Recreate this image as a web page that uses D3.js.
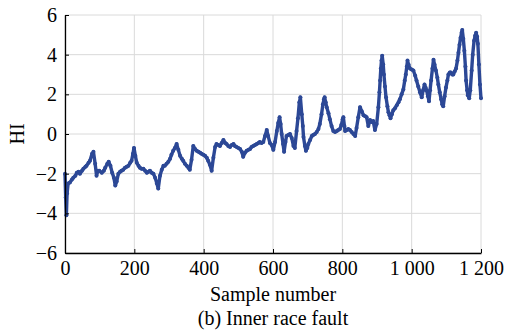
<!DOCTYPE html>
<html>
<head>
<meta charset="utf-8">
<script src="https://cdn.jsdelivr.net/npm/d3@7"></script>
<style>
  html, body { margin: 0; padding: 0; background: #fff; }
  #chart { width: 505px; height: 336px; }
  #chart text { font-family: 'Liberation Serif', 'Times New Roman', Times, 'DejaVu Serif', serif; }
</style>
</head>
<body>
<div id="chart"></div>
<script>
// health indicator (HI), sample number -> value
const sampleIdx = [
  0, 2, 4, 6, 9, 14, 20, 24, 30, 34, 39, 43, 49, 53, 59, 62, 68, 72, 78, 82,
  87, 91, 95, 99, 106, 112, 116, 122, 126, 131, 136, 141, 145, 149, 154, 159, 163, 168, 173, 178,
  183, 188, 192, 196, 199, 203, 207, 212, 216, 221, 226, 231, 236, 241, 245, 250, 255, 260, 265, 269,
  274, 279, 284, 288, 293, 298, 303, 307, 312, 317, 322, 327, 332, 337, 341, 346, 351, 356, 360, 365,
  370, 375, 380, 385, 390, 394, 399, 404, 409, 413, 418, 423, 428, 433, 437, 442, 447, 452, 457, 462,
  466, 471, 476, 481, 486, 490, 495, 500, 505, 510, 514, 519, 524, 529, 534, 538, 543, 548, 553, 558,
  562, 567, 572, 577, 582, 586, 591, 596, 601, 606, 611, 615, 619, 622, 625, 629, 632, 636, 639, 644,
  649, 654, 659, 663, 668, 672, 676, 679, 683, 686, 688, 692, 695, 699, 702, 707, 712, 716, 721, 726,
  731, 735, 740, 744, 747, 749, 752, 755, 760, 764, 769, 774, 779, 784, 788, 793, 797, 801, 803, 806,
  808, 813, 817, 822, 827, 832, 837, 841, 846, 851, 856, 861, 866, 870, 875, 880, 885, 889, 894, 899,
  904, 907, 909, 911, 913, 915, 918, 920, 923, 926, 930, 933, 936, 939, 943, 947, 952, 957, 962, 966,
  971, 976, 980, 983, 986, 988, 991, 995, 1000, 1005, 1010, 1014, 1019, 1024, 1029, 1033, 1037, 1040, 1043, 1047,
  1050, 1053, 1056, 1060, 1063, 1066, 1070, 1074, 1077, 1081, 1085, 1088, 1091, 1095, 1099, 1103, 1106, 1110, 1113, 1117,
  1120, 1124, 1128, 1132, 1135, 1138, 1141, 1144, 1146, 1149, 1152, 1155, 1157, 1160, 1162, 1166, 1169, 1173, 1176, 1180,
  1183, 1186, 1189, 1191, 1194, 1197, 1200
];
const hiValues = [
  -2.0, -3.2, -4.1, -3.0, -2.5, -2.45, -2.3, -2.2, -2.1, -1.95, -1.9, -2.0, -1.85, -1.75, -1.65, -1.6, -1.45, -1.35, -1.0, -0.9,
  -1.5, -2.1, -1.85, -1.85, -1.95, -1.85, -1.7, -1.5, -1.4, -1.6, -1.95, -2.2, -2.6, -2.4, -2.0, -1.9, -1.85, -1.8, -1.7, -1.65,
  -1.6, -1.45, -1.35, -1.0, -0.7, -1.1, -1.45, -1.6, -1.7, -1.75, -1.75, -1.85, -1.95, -1.9, -1.85, -1.95, -2.0, -2.2, -2.5, -2.75,
  -2.1, -1.8, -1.6, -1.6, -1.5, -1.4, -1.25, -1.05, -0.85, -0.7, -0.5, -0.8, -1.1, -1.25, -1.35, -1.5, -1.6, -1.7, -1.8, -1.3,
  -0.6, -0.75, -0.85, -0.9, -0.95, -1.0, -1.05, -1.1, -1.2, -1.35, -1.55, -1.85, -1.2, -0.65, -0.5, -0.55, -0.6, -0.45, -0.3, -0.45,
  -0.5, -0.6, -0.65, -0.55, -0.5, -0.6, -0.65, -0.7, -0.75, -0.9, -1.15, -0.95, -0.85, -0.8, -0.75, -0.65, -0.6, -0.55, -0.5, -0.45,
  -0.4, -0.45, -0.4, -0.1, 0.2, -0.1, -0.45, -0.55, -0.8, -0.4, 0.15, 0.55, 0.85, 0.5, 0.0, -0.5, -0.9, -0.4, -0.1, -0.05,
  0.0, -0.2, -0.6, -0.7, 0.15, 0.8, 1.6, 1.85, 1.0, 0.4, -0.15, -0.6, -0.85, -0.7, -0.5, -0.3, -0.1, -0.05, 0.0, 0.1,
  0.25, 0.5, 1.0, 1.5, 1.75, 1.85, 1.6, 1.35, 1.05, 0.75, 0.4, 0.15, 0.1, 0.15, 0.2, 0.25, 0.45, 0.75, 0.85, 0.4,
  0.15, 0.2, 0.25, 0.2, 0.1, 0.0, -0.1, 0.3, 0.85, 1.35, 1.15, 0.95, 0.9, 0.85, 0.4, 0.7, 0.6, 0.65, 0.2, 0.5,
  1.35, 2.1, 2.7, 3.3, 3.7, 3.95, 3.5, 3.0, 2.4, 1.85, 1.4, 1.1, 0.95, 0.8, 1.0, 1.2, 1.3, 1.45, 1.6, 1.75,
  2.0, 2.25, 2.7, 3.0, 3.4, 3.7, 3.5, 3.3, 3.25, 3.2, 2.95, 2.7, 2.4, 2.1, 1.85, 2.2, 2.5, 2.35, 2.2, 1.9,
  1.65, 2.2, 2.7, 3.3, 3.75, 3.5, 3.2, 2.85, 2.5, 2.1, 1.75, 1.5, 1.4, 1.9, 2.35, 2.7, 3.0, 3.1, 3.1, 3.0,
  3.0, 3.15, 3.3, 3.7, 4.1, 4.5, 4.85, 5.1, 5.25, 4.8, 4.2, 3.4, 2.7, 2.2, 1.95, 1.8, 2.2, 3.2, 4.0, 4.7,
  4.95, 5.1, 4.9, 4.55, 3.5, 2.5, 1.8
];
const xTicks = [0, 200, 400, 600, 800, 1000, 1200];
const xTickLabels = ['0', '200', '400', '600', '800', '1 000', '1 200'];
const yTicks = [-6, -4, -2, 0, 2, 4, 6];

const data = sampleIdx.map((s, i) => ({ s: s, v: hiValues[i] }));

const W = 505, H = 336;
const margin = { top: 15, right: 24, bottom: 83, left: 65 };
const width = W - margin.left - margin.right;
const height = H - margin.top - margin.bottom;
const lineColor = '#2c4896';

const svg = d3.select('#chart')
  .append('svg')
  .attr('width', W)
  .attr('height', H)
  .append('g')
  .attr('transform', `translate(${margin.left},${margin.top})`);

const x = d3.scaleLinear().domain([0, 1200]).range([0, width]);
const y = d3.scaleLinear().domain([-6, 6]).range([height, 0]);

// grid
svg.append('g')
  .selectAll('line')
  .data(yTicks)
  .enter()
  .append('line')
  .attr('x1', 0).attr('x2', width)
  .attr('y1', d => y(d)).attr('y2', d => y(d))
  .attr('stroke', '#dadada')
  .attr('stroke-width', 1);

svg.append('g')
  .selectAll('line')
  .data(xTicks)
  .enter()
  .append('line')
  .attr('x1', d => x(d)).attr('x2', d => x(d))
  .attr('y1', 0).attr('y2', height)
  .attr('stroke', '#dadada')
  .attr('stroke-width', 1);

// series: thick line plus small dot markers
const line = d3.line()
  .x(d => x(d.s))
  .y(d => y(d.v));

svg.append('path')
  .datum(data)
  .attr('fill', 'none')
  .attr('stroke', lineColor)
  .attr('stroke-width', 3.4)
  .attr('stroke-linejoin', 'round')
  .attr('d', line);

svg.selectAll('.dot')
  .data(data)
  .enter()
  .append('circle')
  .attr('cx', d => x(d.s))
  .attr('cy', d => y(d.v))
  .attr('r', 2)
  .attr('fill', lineColor);

// axes
svg.append('g')
  .attr('transform', `translate(0,${height})`)
  .call(d3.axisBottom(x).tickValues(xTicks)
    .tickFormat((d, i) => xTickLabels[i])
    .tickSizeInner(-4).tickSizeOuter(0).tickPadding(8))
  .call(g => g.select('.domain').attr('stroke', '#000').attr('stroke-width', 1.3))
  .call(g => g.selectAll('.tick line').attr('stroke', '#000'))
  .call(g => g.selectAll('.tick text')
    .attr('fill', '#000')
    .attr('font-family', null)
    .style('font-size', '20px'));

svg.append('g')
  .call(d3.axisLeft(y).tickValues(yTicks)
    .tickSizeInner(-4).tickSizeOuter(0).tickPadding(8))
  .call(g => g.select('.domain').attr('stroke', '#000').attr('stroke-width', 1.3))
  .call(g => g.selectAll('.tick line').attr('stroke', '#000'))
  .call(g => g.selectAll('.tick text')
    .attr('fill', '#000')
    .style('font-size', '20px'));

// axis groups get font-family="sans-serif" from d3; drop it so the css serif applies
svg.selectAll('g').attr('font-family', null);

// labels
svg.append('text')
  .attr('text-anchor', 'middle')
  .attr('x', width / 2)
  .attr('y', height + 48)
  .text('Sample number')
  .style('font-size', '20px')
  .attr('fill', '#000');

svg.append('text')
  .attr('text-anchor', 'middle')
  .attr('x', width / 2)
  .attr('y', height + 72)
  .text('(b) Inner race fault')
  .style('font-size', '20px')
  .attr('fill', '#000');

svg.append('text')
  .attr('text-anchor', 'middle')
  .attr('transform', 'rotate(-90)')
  .attr('x', -height / 2)
  .attr('y', -margin.left + 24)
  .text('HI')
  .style('font-size', '20px')
  .attr('fill', '#000');
</script>
</body>
</html>
